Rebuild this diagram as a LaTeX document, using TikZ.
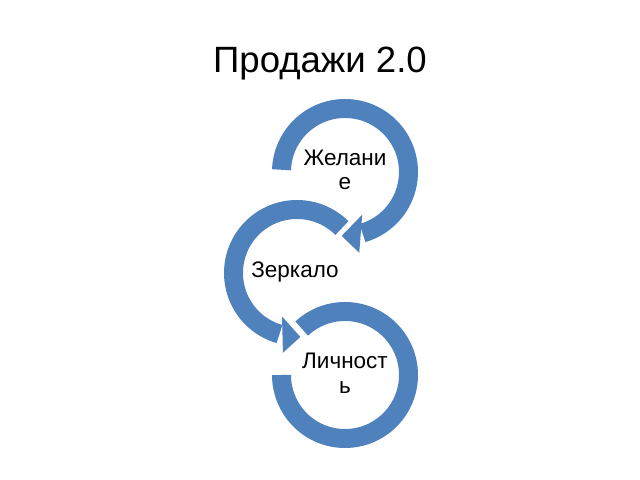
\documentclass[tikz,border=0pt]{standalone}
\usepackage{fontspec}
\setmainfont{Liberation Sans}
\usetikzlibrary{calc}
\definecolor{ringblue}{RGB}{79,129,189}
\tikzset{
  ring/.style={draw=ringblue,line width=13.5pt},
  head/.style={fill=ringblue},
  txt/.style={align=center,inner sep=0pt,font=\fontsize{16}{17.5}\selectfont}
}
\begin{document}
\begin{tikzpicture}[x=0.025cm,y=0.025cm]
\useasboundingbox (0,0) rectangle (640,480);
\node[anchor=base,font=\fontsize{26}{30}\selectfont] (title) at (320,407) {Продажи 2.0};
\coordinate (c1) at (345,308);
\coordinate (c2) at (297,207);
\coordinate (c3) at (345,105);
\draw[ring] ($(c1)+(178:63.5)$) arc[start angle=178,end angle=-74,radius=63.5];
\fill[head] ($(c1)+(-68:46)$) -- ($(c1)+(-93:64)$) -- ($(c1)+(-80:82)$) -- cycle;
\draw[ring] ($(c2)+(45:63.5)$) arc[start angle=45,end angle=254,radius=63.5];
\fill[head] ($(c2)+(-109:46)$) -- ($(c2)+(-87:64)$) -- ($(c2)+(-100:81)$) -- cycle;
\draw[ring] ($(c3)+(133:63.5)$) arc[start angle=133,end angle=-180,radius=63.5];
\node[txt] (want) at (345,310) {Желани\\е};
\node[txt,anchor=base] (mirror) at (295,202) {Зеркало};
\node[txt] (self) at (345,107) {Личност\\ь};
\end{tikzpicture}
\end{document}
